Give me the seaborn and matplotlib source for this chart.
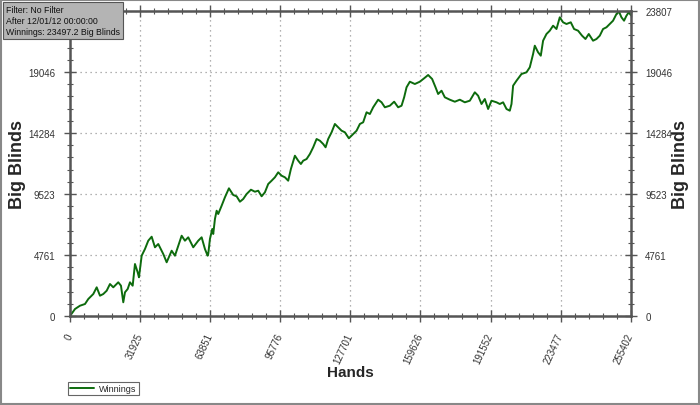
import matplotlib
matplotlib.use("Agg")
import matplotlib.pyplot as plt
import seaborn as sns
import pandas as pd
import numpy as np
from matplotlib.ticker import FixedLocator, MultipleLocator
from matplotlib.patches import Rectangle

hands = [0, 2277, 4553, 6830, 8332, 10608, 12157, 13659, 15161, 16710, 18212, 19714,
         21991, 23220, 24267, 25042, 26271, 27318, 28548, 29595, 30824, 31416, 32645,
         34148, 35650, 37198, 38701, 40203, 42480, 44028, 46305, 47807, 50858, 52360,
         53862, 56139, 58415, 59963, 61466, 62695,
         62968, 63742, 64790, 65244, 66019, 66793, 67521, 69069, 70572, 72392, 74351,
         75899, 77401, 78903, 80452, 82409, 84231, 85733, 87281, 88784, 90286, 91834,
         93337, 94839, 96388, 97890, 99392, 100621, 102443, 103945, 105174, 106222,
         107770, 109273, 110775, 112323, 113825, 115328, 116420, 117604, 119152,
         120655, 122157, 123705, 125208, 127029,
         128987, 130535, 132037, 133540, 135088, 136590, 138093, 140369, 141918,
         143420, 145696, 147654, 149475, 151023, 152207, 153300, 154802, 157079,
         159355, 161313, 163134, 164955, 166503, 167687, 169235, 170738, 173014,
         175291, 177567, 179844, 182120, 184397, 185899, 187447,
         188950, 190452, 192000, 194277, 195779, 197282, 198830, 200332, 201106,
         201835, 203383, 205660, 207936, 209438, 210941, 211715, 213217, 214446,
         215493, 217041, 218544, 220046, 221594, 223097, 224599, 226147, 228105,
         229608, 231429, 233250, 234798, 236301, 238258, 239806, 241309, 242811,
         244359, 245862, 247364, 248912, 250096, 251189, 252373, 253465, 254512,
         255402]

winnings = [0, 546, 804, 937, 1327, 1717, 2240, 1585, 1717, 1975, 2498, 2240,
            2631, 2365, 1069, 1850, 2108, 2631, 2365, 4059, 3411, 3021, 4707,
            5230, 5878, 6190, 5363, 5620, 4840, 4192, 5097, 4707, 6268, 5878,
            6143, 5363, 5878, 6143, 5230, 4707,
            4840, 6011, 6791, 6401, 7572, 8220, 7962, 8610, 9266, 9968, 9445,
            9344, 8922, 9133, 9523, 9859, 9703, 9781, 9344, 9656, 10304, 10562,
            10827, 11217, 10952, 10827, 10562, 11475, 12513, 12123, 11865, 12123,
            12255, 12646, 13169, 13817, 13684, 13426, 13169, 13817, 14340,
            14988, 14730, 14465, 14340, 13871,
            14207, 14465, 14988, 15122, 15902, 15768, 16291, 16885, 16681,
            16291, 16416, 16728, 16291, 16416, 17072, 17853, 18290, 18110,
            18290, 18555, 18813, 18501, 17853, 17330, 17587, 17072, 16885,
            16728, 16885, 16681, 16806, 17462, 17197, 16549,
            16939, 16159, 16806, 16681, 16549, 16681, 16159, 16026, 16549,
            17977, 18368, 18891, 19023, 19414, 20452, 21100, 20585, 20319,
            21490, 22013, 22271, 22661, 22403, 23316, 22926, 22794, 22926,
            22403, 22271, 21880, 21623, 22013, 21490, 21623, 21880, 22403,
            22536, 22794, 23051, 23574, 23750, 23316, 23051, 23441, 23707,
            23497]

x_ticks = [0, 31925, 63851, 95776, 127701, 159626, 191552, 223477, 255402]
y_ticks = [0, 4761, 9523, 14284, 19046, 23807]

df = pd.DataFrame({"Hands": hands, "Winnings": winnings})

sns.set_theme(style="white")
plt.rcParams["font.family"] = ["Liberation Sans", "DejaVu Sans"]

fig = plt.figure(figsize=(7.0, 4.06), dpi=100)
ax = fig.add_axes([0.1, 0.2192, 0.801, 0.7512])

sns.lineplot(data=df, x="Hands", y="Winnings", ax=ax, color="#0d6b0d",
             linewidth=1.4, label="Winnings")

ax.set_xlim(0, 255402)
ax.set_ylim(0, 23807)
ax.xaxis.set_major_locator(FixedLocator(x_ticks))
ax.yaxis.set_major_locator(FixedLocator(y_ticks))
ax.xaxis.set_minor_locator(MultipleLocator(255402 / 40))
ax.yaxis.set_minor_locator(MultipleLocator(23807 / 25))
ax.set_xticklabels([str(v) for v in x_ticks], rotation=65, ha="right",
                   va="center", rotation_mode="anchor", fontsize=7, color="#333333")
ax.set_yticklabels([str(v) for v in y_ticks], fontsize=7, color="#333333")

ax.tick_params(axis="both", which="major", direction="inout", length=9, width=1.0,
               color="#555555", top=True, right=True, left=True, bottom=True,
               labelright=True, labelleft=True, pad=6)
ax.tick_params(axis="both", which="minor", direction="inout", length=5, width=0.8,
               color="#555555", top=True, right=True, left=True, bottom=True)
ax.tick_params(axis="x", which="major", pad=8)

# the info box hides the top left tick label in the reference
ax.yaxis.get_major_ticks()[-1].label1.set_visible(False)

for s in ax.spines.values():
    s.set_color("#555555")
    s.set_linewidth(1.8)

ax.grid(True, which="major", linestyle=(0, (1, 3)), color="#999999", linewidth=0.9)

ax.set_xlabel("Hands", fontsize=11, fontweight="bold", labelpad=0)
ax.set_ylabel("")
fig.text(0.025, 0.595, "Big Blinds", rotation=90, fontsize=13, fontweight="bold",
         ha="center", va="center")
fig.text(0.972, 0.595, "Big Blinds", rotation=90, fontsize=13, fontweight="bold",
         ha="center", va="center")

ax.legend(loc="lower left", bbox_to_anchor=(0.097, 0.024), bbox_transform=fig.transFigure,
          fontsize=6.5, frameon=True, fancybox=False, edgecolor="#666666",
          handlelength=2.6, handletextpad=0.6, borderpad=0.25, framealpha=1,
          borderaxespad=0)
leg = ax.get_legend()
leg.get_frame().set_linewidth(0.8)

fig.text(0.008, 0.985,
         "Filter: No Filter\nAfter 12/01/12 00:00:00\nWinnings: 23497.2 Big Blinds",
         fontsize=6.3, va="top", ha="left", color="#111111", linespacing=1.25,
         bbox=dict(boxstyle="square,pad=0.35", facecolor="#b4b4b4", edgecolor="#555555",
                   linewidth=0.8))

fig.patches.append(Rectangle((0.001, 0.002), 0.998, 0.996, transform=fig.transFigure,
                             fill=False, edgecolor="#888888", linewidth=1.5))

fig.savefig("out.png", dpi=100)
